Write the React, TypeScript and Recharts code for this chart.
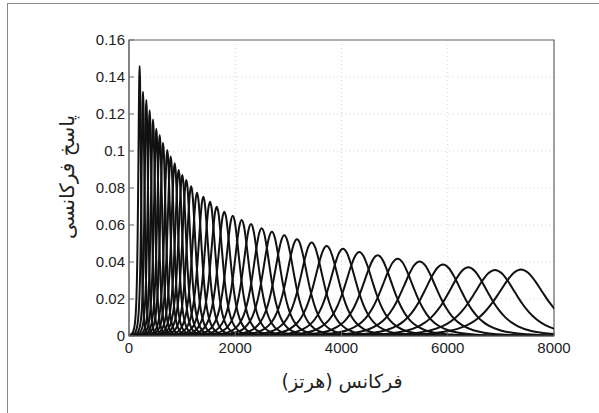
import { CartesianGrid, Line, LineChart, ReferenceArea, XAxis, YAxis } from "recharts";

// centre frequency (Hz), peak height and half-height half-width (Hz) of each filter
const centreFreqs = [
    200, 263, 326, 389, 452, 514, 578, 640, 721, 785, 860, 935, 1003, 1079, 1170, 1280, 1399, 1525, 1651,
    1794, 1953, 2121, 2296, 2497, 2690, 2923, 3162, 3438, 3721, 4028, 4335, 4681, 5057, 5471, 5910, 6387,
    6890, 7379,
];
const peakValues = [
    0.146, 0.132, 0.1276, 0.122, 0.117, 0.112, 0.1086, 0.1045, 0.1005, 0.097, 0.0934, 0.0897, 0.087, 0.0843,
    0.081, 0.0775, 0.0753, 0.0726, 0.0699, 0.0672, 0.065, 0.0627, 0.0605, 0.0583, 0.0563, 0.0544, 0.0523,
    0.0506, 0.0486, 0.0472, 0.0454, 0.0436, 0.0418, 0.0403, 0.0387, 0.0371, 0.0357, 0.036,
];
const halfWidths = [
    30, 35, 39, 44, 48, 53, 57, 62, 67, 72, 77, 82, 87, 93, 99, 107, 115, 124, 133, 143, 154, 166, 179, 193,
    207, 223, 240, 260, 280, 301, 323, 348, 374, 404, 435, 468, 504, 539,
];

// shape of one response (taken from the right-most curve): offset in half-widths -> share of the peak
const profileSteps = [
    -8, -6, -5, -4, -3, -2.5, -2, -1.75, -1.5, -1.25, -1, -0.75, -0.5, -0.25, 0, 0.25, 0.5, 0.75, 1, 1.25,
    1.5, 1.75, 2, 2.5, 3, 4, 5, 6, 8,
];
const profileLevels = [
    0.0013, 0.004, 0.0078, 0.0172, 0.0447, 0.0776, 0.1417, 0.1943, 0.2679, 0.3686, 0.5, 0.6578, 0.8211,
    0.9502, 1, 0.9502, 0.8211, 0.6578, 0.5, 0.3686, 0.2679, 0.1943, 0.1417, 0.0776, 0.0447, 0.0172, 0.0078,
    0.004, 0.0013,
];

const xTicks = [0, 2000, 4000, 6000, 8000];
const yTicks = [0, 0.02, 0.04, 0.06, 0.08, 0.1, 0.12, 0.14, 0.16];

const curves = centreFreqs.map((fc, i) =>
    profileSteps.map((u, k) => ({ f: fc + u * halfWidths[i], v: peakValues[i] * profileLevels[k] }))
);

const tickStyle = { fontFamily: "Liberation Sans, Arial, sans-serif", fontSize: 15, fill: "#222" };

export default function App() {
    return (
        <div style={{ position: "absolute", left: 0, top: 0, width: 599, height: 413, background: "#fff", overflow: "hidden" }}>
            <div
                style={{
                    position: "absolute",
                    left: 7,
                    top: 3,
                    width: 600,
                    height: 420,
                    borderLeft: "1.5px solid #8a8a8a",
                    borderTop: "1.5px solid #8a8a8a",
                }}
            />
            <LineChart width={599} height={413} margin={{ top: 40, right: 45, bottom: 47, left: 69 }}>
                <CartesianGrid stroke="#d4d4d4" strokeDasharray="1 3" />
                <XAxis
                    dataKey="f"
                    type="number"
                    domain={[0, 8000]}
                    ticks={xTicks}
                    allowDataOverflow
                    height={30}
                    tick={tickStyle}
                    tickSize={-5}
                    tickMargin={11}
                    stroke="#666"
                />
                <YAxis
                    type="number"
                    domain={[0, 0.16]}
                    ticks={yTicks}
                    allowDataOverflow
                    width={60}
                    tick={tickStyle}
                    tickSize={-5}
                    tickMargin={9}
                    tickFormatter={(v) => String(v)}
                    stroke="#666"
                />
                <ReferenceArea x1={0} x2={8000} y1={0} y2={0.16} fill="none" stroke="#666" strokeWidth={1.2} />
                {curves.map((curve, i) => (
                    <Line
                        key={i}
                        data={curve}
                        dataKey="v"
                        type="monotone"
                        stroke="#111"
                        strokeWidth={2}
                        dot={false}
                        activeDot={false}
                        isAnimationActive={false}
                    />
                ))}
            </LineChart>
            <div
                style={{
                    position: "absolute",
                    left: 342,
                    top: 381,
                    transform: "translate(-50%, -50%)",
                    fontFamily: "DejaVu Sans, sans-serif",
                    fontSize: 19,
                    color: "#222",
                    whiteSpace: "nowrap",
                    direction: "rtl",
                }}
            >
                فرکانس (هرتز)
            </div>
            <div
                style={{
                    position: "absolute",
                    left: 67,
                    top: 177,
                    transform: "translate(-50%, -50%) rotate(-90deg)",
                    fontFamily: "DejaVu Sans, sans-serif",
                    fontSize: 20,
                    color: "#222",
                    whiteSpace: "nowrap",
                    direction: "rtl",
                }}
            >
                پاسخ فرکانسی
            </div>
        </div>
    );
}
